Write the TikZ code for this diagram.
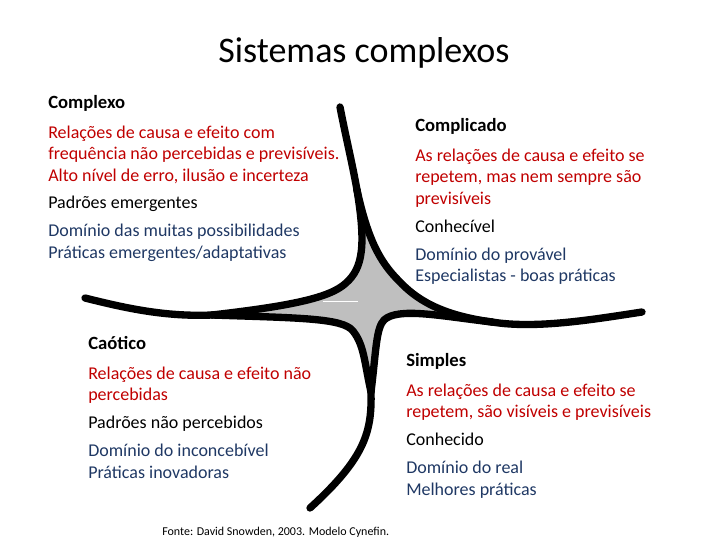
\documentclass[tikz,border=0pt]{standalone}
\usepackage{fontspec}
\setmainfont{Carlito}
\definecolor{cynRed}{RGB}{192,0,0}
\definecolor{cynBlue}{RGB}{31,56,100}
\definecolor{cynGray}{RGB}{191,191,191}

\begin{document}
\begin{tikzpicture}[x=0.75pt,y=0.75pt,yscale=-1,xscale=1,
	txt/.style={anchor=base west, inner sep=0.75pt, font=\fontsize{13.5}{16}\selectfont},
	hd/.style={txt, font=\fontsize{14}{16}\selectfont\bfseries},
	rd/.style={txt, text=cynRed},
	bl/.style={txt, text=cynBlue},
	arm/.style={line width=5.5, line cap=round, line join=round}]
		%set diagram left start at 0, and has height of 546
		\path [use as bounding box] (0,0) rectangle (728,546);
		
		% arm ends and junctions
		\coordinate (tEnd) at (340,107);
		\coordinate (lEnd) at (85,298);
		\coordinate (rEnd) at (642,312);
		\coordinate (bEnd) at (310,508);
		\coordinate (tJ) at (357,190);
		\coordinate (lJ) at (212,315);
		\coordinate (rJ) at (492,322);
		\coordinate (bJ) at (371,392);
		
		%Shape: gray centre
		\fill [cynGray] (tJ) .. controls (366,245) and (363,268) .. (346,283) .. controls (330,298) and (290,306) .. (lJ) .. controls (300,318) and (343,318) .. (353,331) .. controls (364,345) and (364,360) .. (bJ) .. controls (376,352) and (376,328) .. (384,320) .. controls (398,307) and (440,316) .. (rJ) .. controls (440,315) and (416,299) .. (399,281) .. controls (380,262) and (368,240) .. (tJ) -- cycle ;
		%Straight Lines
		\draw [white, line width=0.75] (323,301) -- (358,301) ;
		
		%Curve Lines: arms
		\draw [arm] (tEnd) .. controls (346,138) and (352,162) .. (tJ) ;
		\draw [arm] (lJ) .. controls (165,317) and (125,308) .. (lEnd) ;
		\draw [arm] (rJ) .. controls (535,329) and (590,320) .. (rEnd) ;
		\draw [arm] (bJ) .. controls (372,432) and (365,458) .. (bEnd) ;
		%Curve Lines: top-left
		\draw [arm] (tJ) .. controls (366,245) and (363,268) .. (346,283) .. controls (330,298) and (290,306) .. (lJ) ;
		%Curve Lines: top-right
		\draw [arm] (tJ) .. controls (368,240) and (380,262) .. (399,281) .. controls (416,299) and (440,315) .. (rJ) ;
		%Curve Lines: bottom-right
		\draw [arm] (rJ) .. controls (440,316) and (398,307) .. (384,320) .. controls (376,328) and (376,352) .. (bJ) ;
		%Curve Lines: bottom-left
		\draw [arm] (bJ) .. controls (364,360) and (364,345) .. (353,331) .. controls (343,318) and (300,318) .. (lJ) ;
		
		% Text Node
		\draw (364,62) node [anchor=base][inner sep=0.75pt][font=\fontsize{27}{32}\selectfont] (title) {Sistemas complexos};
		
		% Text Node
		\draw (47,108) node [hd] (cxHead) {Complexo};
		\draw (47,138) node [rd] (cxRelA) {Relações de causa e efeito com};
		\draw (47,159.5) node [rd] (cxRelB) {frequência não percebidas e previsíveis.};
		\draw (47,181) node [rd] (cxRelC) {Alto nível de erro, ilusão e incerteza};
		\draw (47,208.5) node [txt] (cxPad) {Padrões emergentes};
		\draw (47,236.5) node [bl] (cxDomA) {Domínio das muitas possibilidades};
		\draw (47,258) node [bl] (cxDomB) {Práticas emergentes/adaptativas};
		
		% Text Node
		\draw (414,131) node [hd] (cdHead) {Complicado};
		\draw (414,161) node [rd] (cdRelA) {As relações de causa e efeito se};
		\draw (414,182.5) node [rd] (cdRelB) {repetem, mas nem sempre são};
		\draw (414,204) node [rd] (cdRelC) {previsíveis};
		\draw (414,232) node [txt] (cdPad) {Conhecível};
		\draw (414,260) node [bl] (cdDomA) {Domínio do provável};
		\draw (414,281.5) node [bl] (cdDomB) {Especialistas - boas práticas};
		
		% Text Node
		\draw (87,349) node [hd] (caHead) {Caótico};
		\draw (87,379) node [rd] (caRelA) {Relações de causa e efeito não};
		\draw (87,400.5) node [rd] (caRelB) {percebidas};
		\draw (87,428.5) node [txt] (caPad) {Padrões não percebidos};
		\draw (87,456.5) node [bl] (caDomA) {Domínio do inconcebível};
		\draw (87,478) node [bl] (caDomB) {Práticas inovadoras};
		
		% Text Node
		\draw (405,366) node [hd] (smHead) {Simples};
		\draw (405,396) node [rd] (smRelA) {As relações de causa e efeito se};
		\draw (405,417.5) node [rd] (smRelB) {repetem, são visíveis e previsíveis};
		\draw (405,445.5) node [txt] (smPad) {Conhecido};
		\draw (405,473.5) node [bl] (smDomA) {Domínio do real};
		\draw (405,495) node [bl] (smDomB) {Melhores práticas};
		
		% Text Node
		\draw (161,535) node [anchor=base west][inner sep=0.75pt][font=\fontsize{9}{11}\selectfont] (src) {Fonte: David Snowden, 2003. Modelo Cynefin.};
\end{tikzpicture}
\end{document}
